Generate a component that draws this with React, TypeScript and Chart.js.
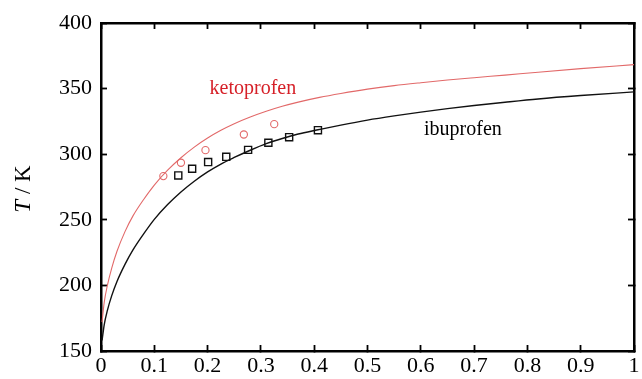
import React, { useEffect, useRef } from "react";
import { Chart, registerables } from "chart.js";

Chart.register(...registerables);

// Axis ranges / ticks
const xMin = 0;
const xMax = 1;
const xStep = 0.1;
const yMin = 150;
const yMax = 400;
const yStep = 50;

// Solubility curves
const ketoCurveX = [0.002, 0.006, 0.012, 0.02, 0.03, 0.045, 0.06, 0.08, 0.1, 0.125, 0.15, 0.175, 0.2, 0.225, 0.25, 0.28, 0.31, 0.34, 0.37, 0.41, 0.45, 0.5, 0.55, 0.6, 0.65, 0.7, 0.758, 0.82, 0.9, 1.0];
const ketoCurveT = [172, 187, 200, 213, 226, 241, 253, 265.5, 276.5, 287.8, 297.3, 305.4, 312.3, 318.2, 323.2, 328.3, 332.7, 336.5, 339.7, 343.3, 346.3, 349.6, 352.3, 354.5, 356.5, 358.3, 360.3, 362.5, 365.2, 368.3];
const ibuCurveX = [0.002, 0.006, 0.012, 0.02, 0.03, 0.045, 0.06, 0.08, 0.1, 0.125, 0.15, 0.175, 0.2, 0.225, 0.25, 0.28, 0.31, 0.34, 0.37, 0.407, 0.45, 0.5, 0.55, 0.6, 0.65, 0.7, 0.758, 0.82, 0.9, 1.0];
const ibuCurveT = [158, 170, 181, 192, 203, 216, 227, 239.2, 250.3, 261.6, 271.2, 279.4, 286.5, 292.5, 297.5, 303, 308, 312, 315.4, 318.6, 322.2, 326, 329.2, 332.1, 334.7, 337.1, 339.6, 342.1, 344.7, 347.5];

// Experimental points
const ketoX = [0.117, 0.150, 0.196, 0.268, 0.325];
const ketoT = [283.3, 293.5, 303.1, 315.0, 322.9];
const ibuX = [0.145, 0.171, 0.201, 0.235, 0.276, 0.314, 0.353, 0.407];
const ibuT = [283.8, 288.9, 294.0, 298.0, 303.3, 308.7, 313.0, 318.3];

// Text labels
const labelKeto = { text: "ketoprofen", x: 0.285, y: 346 };
const labelIbu = { text: "ibuprofen", x: 0.679, y: 314.8 };

const RED_LINE = "rgb(226,105,105)";
const RED_TEXT = "rgb(214,32,40)";
const SERIF = "'Liberation Serif', 'DejaVu Serif', serif";

const zip = (xs: number[], ys: number[]) => xs.map((x, i) => ({ x, y: ys[i] }));
const fmt = (v: any) => String(Number(Number(v).toFixed(2)));

export default function App() {
  const ref = useRef<HTMLCanvasElement | null>(null);

  useEffect(() => {
    const canvas = ref.current;
    if (!canvas) return;

    const textPlugin = {
      id: "texts",
      afterDraw(chart: any) {
        const ctx = chart.ctx;
        const xs = chart.scales.x;
        const ys = chart.scales.y;
        ctx.save();
        ctx.font = `20px ${SERIF}`;
        ctx.textAlign = "center";
        ctx.textBaseline = "alphabetic";
        ctx.fillStyle = RED_TEXT;
        ctx.fillText(labelKeto.text, xs.getPixelForValue(labelKeto.x), ys.getPixelForValue(labelKeto.y));
        ctx.fillStyle = "#000";
        ctx.fillText(labelIbu.text, xs.getPixelForValue(labelIbu.x), ys.getPixelForValue(labelIbu.y));

        // y-axis title: italic T + " / K"
        const cy = (ys.top + ys.bottom) / 2 + 2;
        ctx.translate(30, cy);
        ctx.rotate(-Math.PI / 2);
        const fItal = `italic 23px ${SERIF}`;
        const fReg = `23px ${SERIF}`;
        ctx.font = fItal;
        const wT = ctx.measureText("T").width;
        ctx.font = fReg;
        const wRest = ctx.measureText(" / K").width;
        const start = -(wT + wRest) / 2;
        ctx.textAlign = "left";
        ctx.font = fItal;
        ctx.fillText("T", start, 0);
        ctx.font = fReg;
        ctx.fillText(" / K", start + wT, 0);
        ctx.restore();
      },
    };

    const tickFont = { family: SERIF, size: 22 };
    const gridCommon = {
      display: true,
      drawOnChartArea: false,
      drawTicks: true,
      tickLength: -6,
      tickWidth: 1.8,
      tickColor: "#000",
      color: "#000",
    };
    const borderCommon = { display: true, width: 2.5, color: "#000" };
    const noPad = (s: any) => {
      s.paddingLeft = 0;
      s.paddingRight = 0;
      s.paddingTop = 0;
      s.paddingBottom = 0;
    };

    const chart = new Chart(canvas, {
      type: "scatter",
      data: {
        datasets: [
          {
            label: "ketoprofen ideal",
            data: zip(ketoCurveX, ketoCurveT),
            showLine: true,
            borderColor: RED_LINE,
            borderWidth: 1.1,
            pointRadius: 0,
            cubicInterpolationMode: "monotone",
          },
          {
            label: "ibuprofen ideal",
            data: zip(ibuCurveX, ibuCurveT),
            showLine: true,
            borderColor: "#111",
            borderWidth: 1.4,
            pointRadius: 0,
            cubicInterpolationMode: "monotone",
          },
          {
            label: "ketoprofen",
            data: zip(ketoX, ketoT),
            showLine: false,
            pointStyle: "circle",
            pointRadius: 3.6,
            borderColor: RED_LINE,
            backgroundColor: "rgba(0,0,0,0)",
            borderWidth: 1.1,
          },
          {
            label: "ibuprofen",
            data: zip(ibuX, ibuT),
            showLine: false,
            pointStyle: "rect",
            pointRadius: 5,
            borderColor: "#111",
            backgroundColor: "rgba(0,0,0,0)",
            borderWidth: 1.4,
          },
        ],
      },
      options: {
        animation: false,
        responsive: true,
        maintainAspectRatio: false,
        layout: { padding: { top: 23, right: 8, left: 0, bottom: 0 } },
        plugins: {
          legend: { display: false },
          tooltip: { enabled: false },
          title: { display: false },
        },
        scales: {
          x: {
            type: "linear",
            position: "bottom",
            min: xMin,
            max: xMax,
            ticks: { stepSize: xStep, color: "#000", font: tickFont, padding: 8, maxRotation: 0, autoSkip: false, callback: fmt },
            grid: gridCommon,
            border: borderCommon,
            afterFit: (s: any) => {
              s.height = 28;
              noPad(s);
            },
          },
          x2: {
            type: "linear",
            position: "top",
            min: xMin,
            max: xMax,
            ticks: { stepSize: xStep, display: false },
            grid: gridCommon,
            border: borderCommon,
            afterFit: (s: any) => {
              s.height = 0;
              noPad(s);
            },
          },
          y: {
            type: "linear",
            position: "left",
            min: yMin,
            max: yMax,
            ticks: { stepSize: yStep, color: "#000", font: tickFont, padding: 15, callback: fmt },
            grid: gridCommon,
            border: borderCommon,
            afterFit: (s: any) => {
              s.width = 101;
              noPad(s);
            },
          },
          y2: {
            type: "linear",
            position: "right",
            min: yMin,
            max: yMax,
            ticks: { stepSize: yStep, display: false },
            grid: gridCommon,
            border: borderCommon,
            afterFit: (s: any) => {
              s.width = 0;
              noPad(s);
            },
          },
        },
      },
      plugins: [textPlugin],
    } as any);

    return () => chart.destroy();
  }, []);

  return (
    <div style={{ position: "fixed", left: 0, top: 0, width: 642, height: 379, background: "#fff" }}>
      <canvas ref={ref} />
    </div>
  );
}
